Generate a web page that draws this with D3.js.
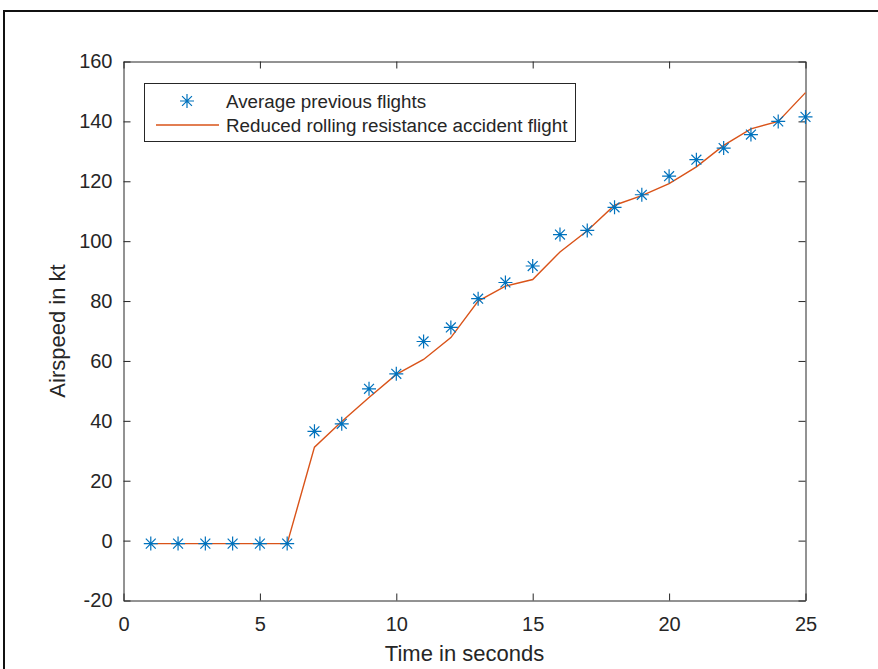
<!DOCTYPE html>
<html>
<head>
<meta charset="utf-8">
<script src="https://cdn.jsdelivr.net/npm/d3@7"></script>
<style>
html, body { margin: 0; padding: 0; background: #fff; }
svg { display: block; }
text { font-family: "Liberation Sans", Arial, Helvetica, sans-serif; fill: #262626; }
</style>
</head>
<body>
<svg id="chart" width="878" height="669"></svg>
<script>
const time = [1,2,3,4,5,6,7,8,9,10,11,12,13,14,15,16,17,18,19,20,21,22,23,24,25];
const averagePrevious = [-1,-1,-1,-1,-1,-1,36.5,39,50.7,55.7,66.5,71.2,80.8,86.2,91.7,102.2,103.6,111.3,115.5,121.7,127.2,131.1,135.6,140,141.5];
const reducedRolling = [-1,-1,-1,-1,-1,-1,31.2,39.8,47.8,55.5,60.5,67.8,80,85,87.2,96.4,103.5,112,115.2,119.2,124.8,132,137.5,140,149.6];
const xTicks = [0,5,10,15,20,25];
const yTicks = [-20,0,20,40,60,80,100,120,140,160];
const seriesNames = ["Average previous flights", "Reduced rolling resistance accident flight"];
const xLabel = "Time in seconds";
const yLabel = "Airspeed in kt";

const blue = "#0072BD", orange = "#D95319", axisColor = "#262626";
const L = 123.5, R = 805.5, T = 61.5, B = 600.5;

const svg = d3.select("#chart");

// outer frame
svg.append("rect").attr("x", 4).attr("y", 11).attr("width", 900).attr("height", 700)
  .attr("fill", "none").attr("stroke", "#111").attr("stroke-width", 2);

const x = d3.scaleLinear().domain([0,25]).range([L,R]);
const y = d3.scaleLinear().domain([-20,160]).range([B,T]);

const g = svg.append("g");

// axes
const tickLen = 7;
const fmt = d => String(d);
const xAxisB = d3.axisBottom(x).tickValues(xTicks).tickFormat(fmt).tickSizeInner(-tickLen).tickSizeOuter(0).tickPadding(16);
const xAxisT = d3.axisTop(x).tickValues(xTicks).tickSizeInner(-tickLen).tickSizeOuter(0).tickFormat("");
const yAxisL = d3.axisLeft(y).tickValues(yTicks).tickFormat(fmt).tickSizeInner(-tickLen).tickSizeOuter(0).tickPadding(11);
const yAxisR = d3.axisRight(y).tickValues(yTicks).tickSizeInner(-tickLen).tickSizeOuter(0).tickFormat("");

function style(sel) {
  sel.select(".domain").attr("stroke", axisColor).attr("stroke-width", 1);
  sel.selectAll(".tick line").attr("stroke", axisColor).attr("stroke-width", 1);
  sel.selectAll(".tick text").attr("fill", axisColor).style("font-size", "20px")
     .style("font-family", '"Liberation Sans", Arial, Helvetica, sans-serif');
}
g.append("g").attr("transform", `translate(0,${B})`).call(xAxisB).call(style);
g.append("g").attr("transform", `translate(0,${T})`).call(xAxisT).call(style);
g.append("g").attr("transform", `translate(${L},0)`).call(yAxisL).call(style);
g.append("g").attr("transform", `translate(${R},0)`).call(yAxisR).call(style);

// axis labels
svg.append("text").attr("x", (L+R)/2).attr("y", 661).attr("text-anchor", "middle")
  .style("font-size", "22px").text(xLabel);
svg.append("text").attr("transform", `translate(65,${(T+B)/2}) rotate(-90)`).attr("text-anchor", "middle")
  .style("font-size", "22px").text(yLabel);

// line
const line = d3.line().x((d,i) => x(time[i])).y(d => y(d));
g.append("path").datum(reducedRolling).attr("d", line).attr("fill", "none")
  .attr("stroke", orange).attr("stroke-width", 1.4);

// asterisk marker
function asterisk(s) {
  const a = s * 0.7071;
  return `M${-s},0L${s},0M0,${-s}L0,${s}M${-a},${-a}L${a},${a}M${-a},${a}L${a},${-a}`;
}
g.selectAll(".mk").data(averagePrevious).enter().append("path")
  .attr("transform", (d,i) => `translate(${x(time[i])},${y(d)})`)
  .attr("d", asterisk(7)).attr("stroke", blue).attr("stroke-width", 1.2).attr("fill", "none");

// legend
const lg = svg.append("g");
lg.append("rect").attr("x", 144.5).attr("y", 83.5).attr("width", 431).attr("height", 58)
  .attr("fill", "#fff").attr("stroke", axisColor).attr("stroke-width", 1);
lg.append("path").attr("transform", "translate(187,101)").attr("d", asterisk(7))
  .attr("stroke", blue).attr("stroke-width", 1.2).attr("fill", "none");
lg.append("line").attr("x1", 156).attr("x2", 219).attr("y1", 125).attr("y2", 125)
  .attr("stroke", orange).attr("stroke-width", 1.4);
lg.append("text").attr("x", 226).attr("y", 108).style("font-size", "18.8px").text(seriesNames[0]);
lg.append("text").attr("x", 226).attr("y", 132).style("font-size", "18.8px").text(seriesNames[1]);
</script>
</body>
</html>
